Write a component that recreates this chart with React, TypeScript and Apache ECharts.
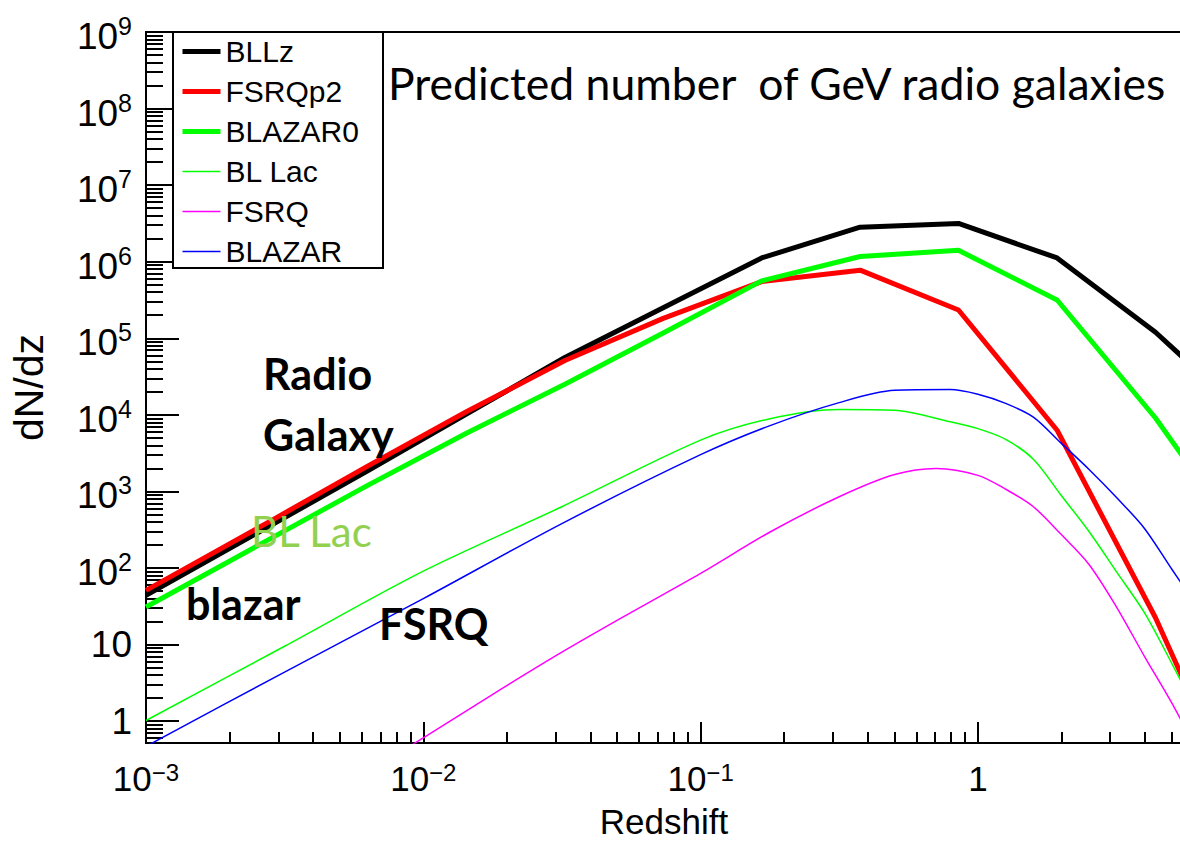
import React, { useEffect, useRef } from "react";
import * as echarts from "echarts";

// ---------- data ----------
// thick curves share redshift knots
const zKnots = [0.001, 0.0028, 0.0063, 0.0143, 0.0324, 0.0733, 0.166, 0.376, 0.851, 1.93, 4.37, 9.89];
const bllz = [44, 355, 1860, 10200, 56200, 251000, 1120000, 2820000, 3160000, 1120000, 120000, 7900];
const fsrqp2 = [51, 407, 2140, 10960, 51300, 182000, 550000, 776000, 234000, 6300, 22.4, 0.032];
const blazar0 = [31, 240, 1200, 5750, 25100, 117500, 562000, 1170000, 1410000, 316000, 9100, 141];

const blLacZ = [0.001, 0.00316, 0.01, 0.0316, 0.1, 0.178, 0.316, 0.501, 0.794, 1.0, 1.259, 1.585, 1.995, 2.512, 3.162, 3.981, 5.012, 6.31];
const blLac = [1.02, 9.5, 91, 631, 4680, 8900, 11750, 11500, 8130, 6610, 4790, 2630, 891, 302, 89, 26.3, 5.6, 1.12];

const fsrqZ = [0.00794, 0.01, 0.0178, 0.0316, 0.0562, 0.1, 0.178, 0.316, 0.501, 0.708, 1.0, 1.259, 1.585, 1.995, 2.512, 3.162, 3.981, 5.012, 6.31];
const fsrq = [0.363, 0.603, 2.24, 7.94, 26.3, 85.1, 295, 851, 1660, 1995, 1620, 1070, 631, 275, 112, 30.9, 7.08, 1.7, 0.355];

const blazarZ = [0.001, 0.00316, 0.01, 0.0316, 0.1, 0.178, 0.316, 0.501, 0.794, 1.0, 1.259, 1.585, 1.995, 2.512, 3.162, 3.981, 5.012, 6.31];
const blazar = [0.468, 4.37, 39.8, 380, 3020, 7240, 14450, 20900, 21400, 18600, 14100, 9330, 4270, 1950, 832, 331, 95.5, 28.2];

const seriesNames = ["BLLz", "FSRQp2", "BLAZAR0", "BL Lac", "FSRQ", "BLAZAR"];
const seriesColors = ["#000000", "#ff0000", "#00ff00", "#00ff00", "#ff00ff", "#0000ff"];
const seriesWidths = [5, 5, 5, 1.5, 1.5, 1.5];

// axis ranges and tick values
const X_MIN = 0.001;
const X_MAX = 5.445;
const Y_MIN = 0.518;
const Y_MAX = 1e9;
const xMajorTicks = [0.001, 0.01, 0.1, 1];
const yMajorTicks = [1, 10, 1e2, 1e3, 1e4, 1e5, 1e6, 1e7, 1e8, 1e9];
const minorMultipliers = [2, 3, 4, 5, 6, 7, 8, 9];

const xTitle = "Redshift";
const yTitle = "dN/dz";
const headline = "Predicted number  of GeV radio galaxies";

// ---------- helpers ----------
const F = '"Liberation Sans", Arial, Helvetica, sans-serif';
const FL = 'Lato, "Open Sans", sans-serif';

function minorTicks(lo: number, hi: number): number[] {
  const out: number[] = [];
  for (let e = Math.floor(Math.log10(lo)) - 1; e <= Math.ceil(Math.log10(hi)); e++) {
    for (const k of minorMultipliers) {
      const v = k * Math.pow(10, e);
      if (v > lo && v < hi) out.push(v);
    }
  }
  return out;
}

const pairs = (xs: number[], ys: number[]) => xs.map((x, i) => [x, ys[i]]);

const richY = {
  b: { fontSize: 37, fontFamily: F, color: "#000", lineHeight: 37, padding: [9, 0, 0, 0] },
  s: { fontSize: 25, fontFamily: F, color: "#000", lineHeight: 25, verticalAlign: "top" },
  p: { fontSize: 37, fontFamily: F, color: "#000", lineHeight: 37 },
};
const richX = {
  b: { fontSize: 35, fontFamily: F, color: "#000", lineHeight: 28, padding: [8, 0, 0, 0] },
  s: { fontSize: 24, fontFamily: F, color: "#000", lineHeight: 19, verticalAlign: "top" },
  p: { fontSize: 35, fontFamily: F, color: "#000", lineHeight: 28 },
};

function expLabel(n: number, plainOne: boolean): string {
  if (n === 0) return plainOne ? "{p|1}" : "{b|1}";
  if (n === 1 && plainOne) return "{p|10}";
  const e = n < 0 ? "\u2212" + -n : String(n);
  return `{b|10}{s|${e}}`;
}

const L = Math.log10;

function buildOption() {
  const lx = [L(X_MIN), L(X_MAX)];
  const ly = [L(Y_MIN), L(Y_MAX)];
  const base = { splitLine: { show: false }, minorTick: { show: false }, minorSplitLine: { show: false } };
  const hiddenLine = { show: false, onZero: false };
  const blackLine = { show: true, onZero: false, lineStyle: { color: "#000", width: 2 } };

  const xAxis = [
    {
      ...base,
      type: "log",
      logBase: 10,
      min: X_MIN,
      max: X_MAX,
      position: "bottom",
      axisLine: blackLine,
      axisTick: { show: false },
      axisLabel: { show: false },
    },
    {
      ...base,
      type: "value",
      min: lx[0],
      max: lx[1],
      position: "bottom",
      axisLine: hiddenLine,
      axisTick: {
        show: true,
        inside: true,
        length: 21,
        customValues: xMajorTicks.map(L),
        lineStyle: { color: "#000", width: 2 },
      },
      axisLabel: {
        show: true,
        margin: 17,
        customValues: xMajorTicks.map(L),
        formatter: (v: number) => expLabel(Math.round(v), false),
        rich: richX,
      },
      name: xTitle,
      nameLocation: "middle",
      nameGap: 63,
      nameMoveOverlap: false,
      nameTextStyle: { fontSize: 35, lineHeight: 30, fontFamily: F, color: "#000" },
    },
    {
      ...base,
      type: "value",
      min: lx[0],
      max: lx[1],
      position: "bottom",
      axisLine: hiddenLine,
      axisTick: {
        show: true,
        inside: true,
        length: 11,
        customValues: minorTicks(X_MIN, X_MAX).map(L),
        lineStyle: { color: "#000", width: 2 },
      },
      axisLabel: { show: false },
    },
  ];

  const yAxis = [
    {
      ...base,
      type: "log",
      logBase: 10,
      min: Y_MIN,
      max: Y_MAX,
      position: "left",
      axisLine: blackLine,
      axisTick: { show: false },
      axisLabel: { show: false },
    },
    {
      ...base,
      type: "value",
      min: ly[0],
      max: ly[1],
      position: "left",
      axisLine: hiddenLine,
      axisTick: {
        show: true,
        inside: true,
        length: 33,
        customValues: yMajorTicks.map(L),
        lineStyle: { color: "#000", width: 2 },
      },
      axisLabel: {
        show: true,
        margin: 14,
        customValues: yMajorTicks.map(L),
        formatter: (v: number) => expLabel(Math.round(v), true),
        rich: richY,
      },
      name: yTitle,
      nameLocation: "middle",
      nameRotate: 90,
      nameGap: 97,
      nameMoveOverlap: false,
      nameTextStyle: { fontSize: 41, fontFamily: F, color: "#000" },
    },
    {
      ...base,
      type: "value",
      min: ly[0],
      max: ly[1],
      position: "left",
      axisLine: hiddenLine,
      axisTick: {
        show: true,
        inside: true,
        length: 17,
        customValues: minorTicks(Y_MIN, Y_MAX).map(L),
        lineStyle: { color: "#000", width: 2 },
      },
      axisLabel: { show: false },
    },
  ];

  const mk = (i: number, xs: number[], ys: number[], smooth: number | boolean) => ({
    name: seriesNames[i],
    type: "line",
    xAxisIndex: 0,
    yAxisIndex: 0,
    data: pairs(xs, ys),
    symbol: "none",
    showSymbol: false,
    smooth,
    clip: true,
    silent: true,
    emphasis: { disabled: true },
    lineStyle: { color: seriesColors[i], width: seriesWidths[i], join: "round" },
    itemStyle: { color: seriesColors[i] },
  });

  const series = [
    mk(0, zKnots, bllz, false),
    mk(1, zKnots, fsrqp2, false),
    mk(2, zKnots, blazar0, false),
    mk(3, blLacZ, blLac, 0.3),
    mk(4, fsrqZ, fsrq, 0.3),
    mk(5, blazarZ, blazar, 0.3),
  ];

  const txt = (text: string, x: number, y: number, size: number, weight: string, fill: string) => ({
    type: "text",
    x,
    y,
    z: 10,
    silent: true,
    style: { text, fontSize: size, fontFamily: FL, fontWeight: weight, fill, align: "left", verticalAlign: "middle" },
  });

  return {
    animation: false,
    backgroundColor: "#ffffff",
    textStyle: { fontFamily: F },
    grid: {
      left: 146,
      top: 32,
      right: -2,
      bottom: 98,
      show: true,
      borderColor: "#000",
      borderWidth: 2,
      backgroundColor: "transparent",
      containLabel: false,
      outerBoundsMode: "none",
    },
    xAxis,
    yAxis,
    legend: {
      data: seriesNames.map((name, i) => ({
        name,
        itemStyle: { opacity: 0 },
        lineStyle: { color: seriesColors[i], width: seriesWidths[i], opacity: 1 },
      })),
      orient: "vertical",
      left: 173,
      top: 32,
      padding: [4, 8, 2, 7],
      itemWidth: 38,
      itemHeight: 16,
      itemGap: 9,
      selectedMode: false,
      z: 6,
      itemStyle: { opacity: 0 },
      textStyle: { fontSize: 30, lineHeight: 31, fontFamily: F, color: "#000" },
    },
    graphic: {
      elements: [
        {
          type: "rect",
          z: 5,
          silent: true,
          shape: { x: 173, y: 32, width: 210, height: 236 },
          style: { fill: "#ffffff", stroke: "#000000", lineWidth: 2 },
        },
        txt(headline, 388, 82, 44.5, "normal", "#000"),
        txt("Radio", 263, 373, 43, "bold", "#000"),
        txt("Galaxy", 263, 434, 43, "bold", "#000"),
        txt("BL Lac", 251, 531, 42, "normal", "#92d050"),
        txt("blazar", 186, 603, 43, "bold", "#000"),
        txt("FSRQ", 379, 623, 43, "bold", "#000"),
      ],
    },
    series,
  };
}

export default function App() {
  const ref = useRef<HTMLDivElement>(null);
  useEffect(() => {
    if (!ref.current) return;
    const chart = echarts.init(ref.current, null, { renderer: "svg" });
    chart.setOption(buildOption() as any);
    return () => chart.dispose();
  }, []);
  return (
    <div
      ref={ref}
      style={{ position: "absolute", left: 0, top: 0, width: 1180, height: 841, background: "#fff" }}
    />
  );
}
